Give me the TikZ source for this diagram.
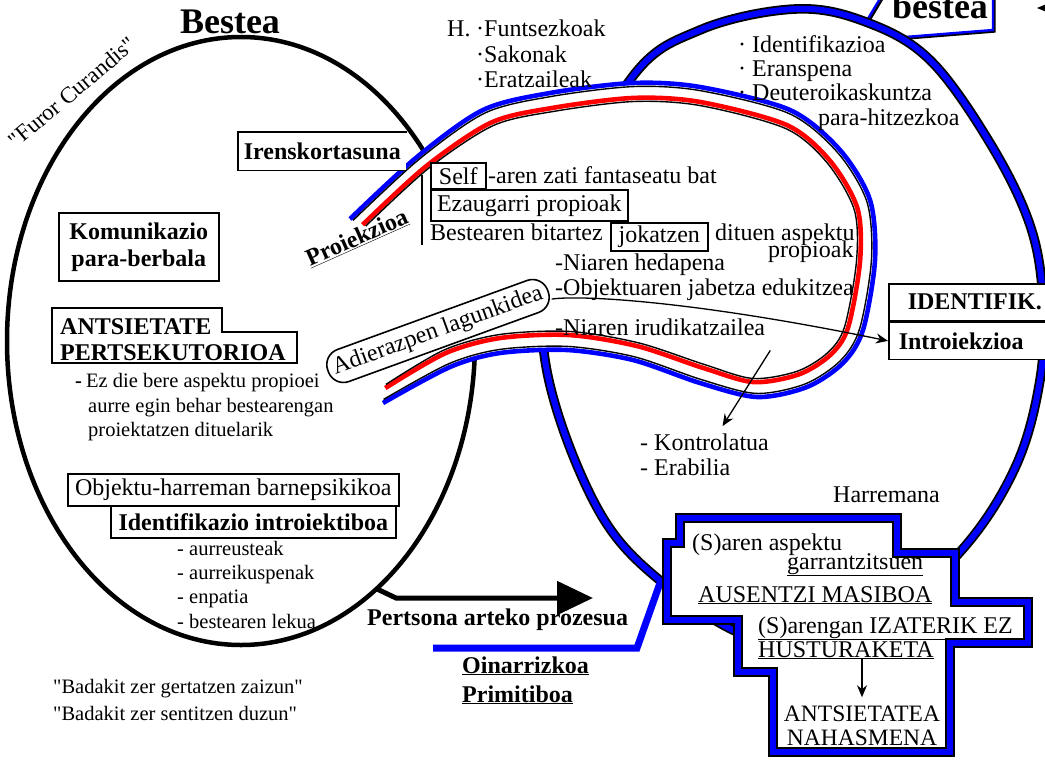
\documentclass[tikz,border=0pt]{standalone}
\usepackage{fontspec}
\setmainfont{Liberation Serif}
\usetikzlibrary{arrows.meta,calc}

\newcommand\mainsz{\fontsize{24}{24}\selectfont}
\newcommand\smallsz{\fontsize{20.5}{20.5}\selectfont}
\newcommand\capsz{\fontsize{24}{24}\selectfont}

\tikzset{
  txt/.style={inner sep=0pt, anchor=base west, font=\mainsz},
  sml/.style={inner sep=0pt, anchor=base west, font=\smallsz},
  bx/.style={draw, line width=1.6pt, fill=white, inner sep=0pt, anchor=north west, font=\mainsz},
  arr/.style={line width=1.3pt, -{Stealth[length=12pt,width=10pt]}},
  bigarr/.style={line width=5pt, -{Triangle[length=36pt,width=33pt]}},
  kblue/.style={blue, line width=4.6pt, line join=round},
  kred/.style={red, line width=4.6pt, line join=round},
  kline/.style={black, line width=1.4pt, line join=round},
}

\begin{document}
\begin{tikzpicture}[x=1pt,y=-1pt]
	\useasboundingbox (0,0) rectangle (1045,763);
	\clip (0,0) rectangle (1045,763);

	%BESTEA (RIGHT) -- LABEL AND CIRCLE
	\draw[line width=2.4pt, xshift=1.5pt, yshift=-1.5pt] (866,22)--(884,-8)--(993,-8)--(993,30)--(905,37);
	\draw[blue, line width=2.4pt] (866,22)--(884,-8)--(993,-8)--(993,30)--(905,37);
	\node[font=\fontsize{36}{36}\selectfont\bfseries, inner sep=0pt, anchor=base] (bestear) at (940,18) {bestea};
	\coordinate (rgt) at (1052,8);	\coordinate (rgttip) at (1037,8);
	\draw[arr] (rgt)--(rgttip);
	\draw[line width=1.8pt, double=blue, double distance=6pt] plot[smooth cycle, tension=0.6] coordinates {(795,9) (866,22) (930,60) (990,143) (1030,225) (1043,300) (1040,380) (1015,468) (960,552) (870,630) (760,640) (657,578) (593,500) (545,360) (553,230) (630,80) (700,30)};

	%BESTEA (LEFT)
	\draw[line width=4.5pt] (241,341) ellipse [x radius=234pt, y radius=304pt];
	\node[font=\fontsize{36}{36}\selectfont\bfseries, inner sep=0pt, anchor=base] (bestea) at (230,33) {Bestea};
	\node[font=\fontsize{23}{23}\selectfont, inner sep=0pt, rotate=40] (furor) at (72,92) {\textquotedbl Furor Curandis\textquotedbl};

	%OINARRIZKOA LINE
	\coordinate (oinL) at (433,648);	\coordinate (oinK) at (637,648);	\coordinate (oinR) at (660,583);
	\draw[blue, line width=7pt] (oinL)--(oinK)--(oinR);

	%PROJECTION LOOP
	\foreach \n/\xb/\yb/\xr/\yr in {1/350/219/361/224, 2/417/157/425/165, 3/483/110/490/121, 4/550/93/552/106,
		5/633/83/633/96, 6/700/87/700/100, 7/790/110/787/123, 8/840/150/831/159, 9/870/200/859/207,
		10/875/260/862/261, 11/863/330/850/328, 12/843/363/832/356, 13/807/387/800/376, 14/757/397/754/384,
		15/700/383/703/370, 16/633/360/637/348, 17/567/350/569/337, 18/500/353/500/340, 19/450/367/446/355,
		20/383/403/385/390}{
		\coordinate (b\n) at (\xb,\yb);
		\coordinate (r\n) at ($(b\n)!1.15!(\xr,\yr)$);
		\coordinate (bk\n) at ($(b\n)!0.24!(r\n)$);
		\coordinate (rk\n) at ($(r\n)!-0.24!(b\n)$);
	} %end foreach
	\fill[white] plot[smooth, variable=\k, samples at={1,...,20}] (b\k) -- cycle;
	\draw[kblue] plot[smooth, variable=\k, samples at={1,...,20}] (b\k);
	\draw[kline] plot[smooth, variable=\k, samples at={1,...,20}] (bk\k);
	\draw[kred] plot[smooth, variable=\k, samples at={1,...,20}] (r\k);
	\draw[kline] plot[smooth, variable=\k, samples at={1,...,20}] (rk\k);

	%TOP LISTS
	\node[txt] (hach) at (447,36) {H.};
	\node[txt] (funts) at (476,36) {·Funtsezkoak};
	\node[txt] (sakon) at (476,62) {·Sakonak};
	\node[txt] (eratz) at (476,87) {·Eratzaileak};
	\node[txt] (identif) at (738,52) {· Identifikazioa};
	\node[txt] (eransp) at (738,76) {· Eranspena};
	\node[txt] (deuter) at (738,100) {· Deuteroikaskuntza};
	\node[txt] (parahitz) at (818,125) {para-hitzezkoa};

	%IRENSKORTASUNA & PROIEKZIOA
	\node[bx, draw=none, font=\mainsz\bfseries, minimum width=167pt, minimum height=37pt] (iren) at (238,132) {Irenskortasuna};
	\draw[line width=1.6pt] (iren.north east)--(iren.north west)--(iren.south west)--(iren.south east);
	\node[font=\mainsz\bfseries, inner sep=0pt, rotate=24] (proiek) at (357,238) {\underline{Proiekzioa}};
	\draw[line width=1.6pt] (422,175)--(422,245);
	\node[bx, minimum width=55pt, minimum height=26pt] (self) at (430,162) {Self};
	\node[txt] (selfrest) at (488,183) {-aren zati fantaseatu bat};
	\node[bx, minimum width=197pt, minimum height=31pt] (ezaug) at (430,189) {Ezaugarri propioak};
	\node[txt] (bitartez) at (430,240) {Bestearen bitartez};
	\node[bx, minimum width=97pt, minimum height=28pt] (jokatzen) at (610,222) {jokatzen};
	\node[txt] (dituen) at (715,240) {dituen aspektu};
	\node[txt] (propioak) at (768,257) {propioak};
	\node[txt] (hedap) at (555,270) {-Niaren hedapena};
	\node[txt] (objekt) at (555,295) {-Objektuaren jabetza edukitzea};
	\node[txt] (irudik) at (555,335) {-Niaren irudikatzailea};

	%ADIERAZPEN & IDENTIFIK.
	\node[draw, line width=1.6pt, fill=white, rounded corners=16pt, font=\mainsz, inner xsep=6pt, inner ysep=5pt, minimum height=34pt, rotate=20] (adier) at (438,331) {Adierazpen lagunkidea};
	\node[bx, font=\mainsz\bfseries, minimum width=172pt, minimum height=37pt] (idf) at (888,283) {IDENTIFIK.};
	\node[bx, font=\mainsz\bfseries, minimum width=172pt, minimum height=37pt, text width=152pt, align=left] (intro) at (idf.south west) {Introiekzioa};
	\draw[arr] ($(adier.east)!0.5!(adier.south east)$) .. controls (578,295) and (690,300) .. (intro.west);
	\node[txt] (kontrol) at (640,450) {- Kontrolatua};
	\node[txt] (erabil) at (640,475) {- Erabilia};
	\draw[arr] ([xshift=5pt,yshift=-15pt]irudik.south east)--([xshift=18pt,yshift=7pt]kontrol.north);

	%LEFT BOXES
	\node[bx, font=\fontsize{24}{27}\selectfont\bfseries, align=center, minimum width=160pt, minimum height=68pt] (komun) at (58,212) {Komunikazio\\para-berbala};
	\draw[line width=1.6pt, fill=white] (52,308)--(222,308)--(222,332)--(297,332)--(297,363)--(52,363)--cycle;
	\node[txt, font=\mainsz\bfseries] (ants1) at (60,334) {ANTSIETATE};
	\node[txt, font=\mainsz\bfseries] (ants2) at (60,360) {PERTSEKUTORIOA};
	\node[sml, font=\smallsz\bfseries] (ezdash) at (75,387) {-};
	\node[sml] (ezdie) at (86,387) {Ez die bere aspektu propioei};
	\node[sml] (aurre) at (88,412) {aurre egin behar bestearengan};
	\node[sml] (proiekt) at (88,436) {proiektatzen dituelarik};
	\node[bx, minimum width=331pt, minimum height=32pt] (objh) at (67,473) {Objektu-harreman barnepsikikoa};
	\node[bx, font=\mainsz\bfseries, minimum width=285pt, minimum height=32pt] (identi) at (110,505) {Identifikazio introiektiboa};
	\node[sml] (aurreu) at (177,555) {- aurreusteak};
	\node[sml] (aurrei) at (177,579) {- aurreikuspenak};
	\node[sml] (enpat) at (177,603) {- enpatia};
	\node[sml] (lekua) at (177,628) {- bestearen lekua};
	\node[sml] (badak1) at (53,693) {\textquotedbl Badakit zer gertatzen zaizun\textquotedbl};
	\node[sml] (badak2) at (53,720) {\textquotedbl Badakit zer sentitzen duzun\textquotedbl};

	%PERTSONA ARTEKO PROZESUA
	\coordinate (pstart) at (377,589);	\coordinate (pknee) at (396,598);	\coordinate (ptip) at (593,598);
	\draw[bigarr] (pstart)--(pknee)--(ptip);
	\node[txt, font=\mainsz\bfseries] (perts) at (367,625) {Pertsona arteko prozesua};
	\node[txt, font=\mainsz\bfseries] (oinar) at (462,673) {\underline{Oinarrizkoa}};
	\node[txt, font=\mainsz\bfseries] (primit) at (462,702) {\underline{Primitiboa}};

	%HARREMANA BOX
	\node[txt] (harrem) at (833,502) {Harremana};
	\draw[line width=2pt, double=blue, double distance=6pt, fill=white] (680,518)--(897,518)--(897,553)--(955,553)--(955,602)--(1028,602)--(1028,643)--(950,643)--(950,752)--(773,752)--(773,672)--(738,672)--(738,620)--(667,620)--(667,543)--(680,543)--cycle;
	\node[txt] (saren) at (692,550) {(S)aren aspektu};
	\node[txt] (garran) at (787,569) {\underline{garrantzitsuen}};
	\node[txt, font=\capsz] (ausen) at (698,602) {\underline{AUSENTZI MASIBOA}};
	\node[txt, font=\capsz] (izater) at (758,633) {\underline{(S)arengan IZATERIK EZ}};
	\node[txt, font=\capsz] (hustur) at (758,657) {\underline{HUSTURAKETA}};
	\node[font=\fontsize{23.5}{23.5}\selectfont, inner sep=0pt, anchor=base] (antsa) at (862,721) {ANTSIETATEA};
	\node[font=\fontsize{23.5}{23.5}\selectfont, inner sep=0pt, anchor=base] (nahas) at (862,745) {NAHASMENA};
	\draw[arr] (antsa.north |- hustur.south)--([yshift=8pt]antsa.north);

	%\draw[help lines] (0,0) grid (1045,763);
\end{tikzpicture}
\end{document}
